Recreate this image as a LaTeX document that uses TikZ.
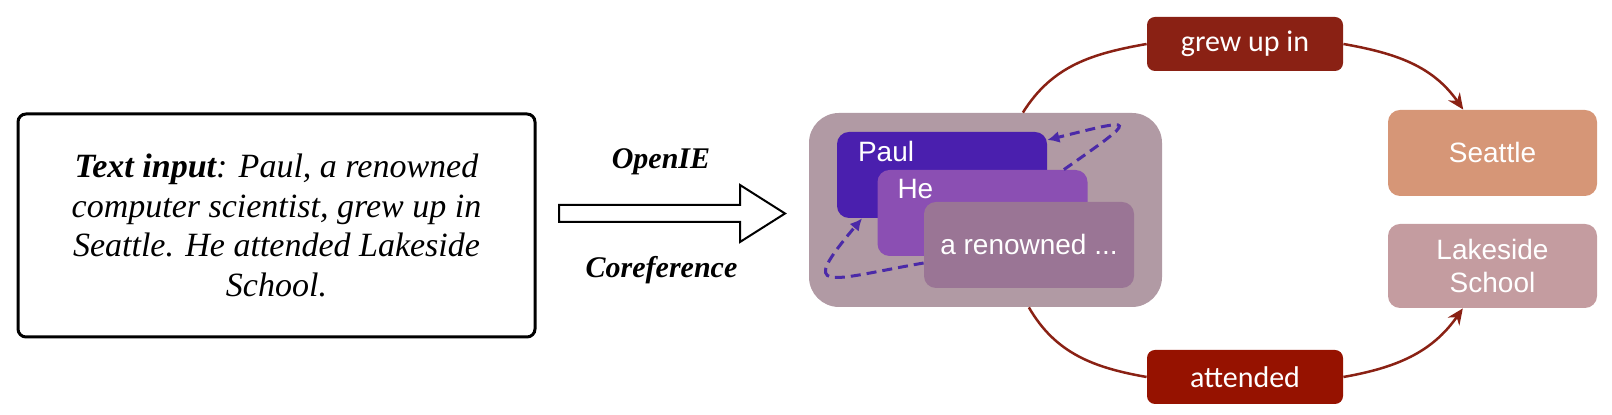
\documentclass[tikz,border=0pt]{standalone}
\usepackage{fontspec}
\setmainfont{Liberation Serif}
\setsansfont{Liberation Sans}
\newfontfamily\calibri{Carlito}
\usetikzlibrary{arrows.meta}
\definecolor{groupbg}{HTML}{B19AA4}
\definecolor{paulc}{HTML}{4A1FAE}
\definecolor{hec}{HTML}{8B4FB3}
\definecolor{renc}{HTML}{9A7595}
\definecolor{seattlec}{HTML}{D69677}
\definecolor{lakec}{HTML}{C49CA0}
\definecolor{relc}{HTML}{8A2114}
\definecolor{attc}{HTML}{961200}
\definecolor{corefc}{HTML}{4B2AA8}

\begin{document}
\begin{tikzpicture}[x=0.5pt,y=0.5pt,
	mention/.style={rounded corners=6pt,minimum width=105pt,minimum height=43pt,inner sep=0pt},
	entity/.style={rounded corners=6pt,minimum width=104.5pt,minimum height=43pt,inner sep=0pt,text=white,align=center,font=\sffamily\fontsize{14}{16.5}\selectfont},
	relation/.style={fill=relc,rounded corners=4pt,minimum width=98pt,minimum height=27pt,inner sep=0pt,text=white,font=\calibri\fontsize{15}{18}\selectfont},
	word/.style={text=white,inner sep=0pt,font=\sffamily\fontsize{14}{16}\selectfont},
	edge/.style={draw=relc,line width=1.25pt},
	corefline/.style={draw=corefc,line width=1.5pt,dash pattern=on 5pt off 3pt,-{Latex[length=6pt,width=6pt]}}]
	\useasboundingbox (0,0) rectangle (1612,415);
	% input sentence
	\node[draw,line width=1.5pt,rounded corners=4pt,minimum width=258.5pt,minimum height=111.5pt,align=center,font=\itshape\fontsize{17}{19.75}\selectfont] (input) at (276.5,189.5) {\textbf{Text input}: Paul, a renowned\\computer scientist, grew up in\\Seattle. He attended Lakeside\\School.};
	\draw [line width=1pt,fill=white] (559,210) -- (740,210) -- (740,230) -- (785,201.5) -- (740,173) -- (740,193) -- (559,193) -- cycle;
	\node [anchor=base,font=\bfseries\itshape\fontsize{15}{18}\selectfont] (openie) at (661,246) {OpenIE};
	\node [anchor=base,font=\bfseries\itshape\fontsize{15}{18}\selectfont] (corefl) at (661.5,137) {Coreference};
	% mentions
	\node[fill=groupbg,rounded corners=15pt,minimum width=176.5pt,minimum height=97pt] (group) at (985.5,205) {};
	\node[mention,fill=paulc] (paul) at (942,240) {};
	\node[word,anchor=base west] (paulname) at ([shift={(21,-30)}]paul.north west) {Paul};
	\node[mention,fill=hec] (he) at (982.5,202) {};
	\node[word,anchor=base west] (hename) at ([shift={(20,-29)}]he.north west) {He};
	\node[mention,fill=renc,text=white,font=\sffamily\fontsize{14}{16}\selectfont] (renowned) at (1029,170) {a renowned ...};
	\draw [corefline] ([xshift=-12pt]he.north east) to[out=35,in=14,distance=46.5pt] ([yshift=17.5pt]paul.east);
	\draw [corefline] ([yshift=-9pt]renowned.west) to[out=190,in=230,distance=50pt] ([xshift=-40pt]paul.south);
	% triples
	\node[relation] (grew) at (1245,371) {grew up in};
	\node[relation,fill=attc] (attended) at (1245,38) {attended};
	\node[entity,fill=seattlec] (seattle) at (1492.5,262) {Seattle};
	\node[entity,fill=lakec,minimum height=42pt] (lakeside) at (1492.5,149) {Lakeside\\School};
	\draw [edge] (group.69) to[out=58,in=190] (grew.west);
	\draw [edge,-{Stealth[length=8pt,width=7pt]}] (grew.east) to[out=-10,in=125] (seattle.124);
	\draw [edge] (group.-66) to[out=-60,in=170] (attended.west);
	\draw [edge,-{Stealth[length=8pt,width=7pt]}] (attended.east) to[out=10,in=235] (lakeside.235);
\end{tikzpicture}
\end{document}
